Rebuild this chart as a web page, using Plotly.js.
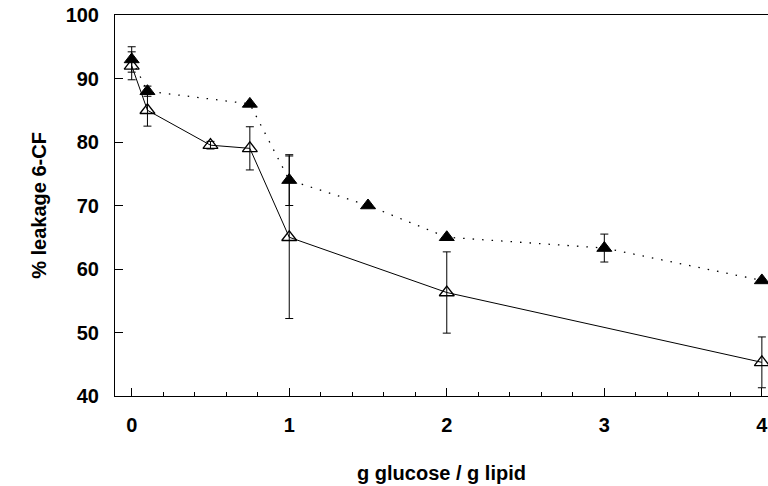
<!DOCTYPE html>
<html>
<head>
<meta charset="utf-8">
<script src="https://cdn.plot.ly/plotly-3.0.1.min.js"></script>
<style>html,body{margin:0;padding:0;background:#fff;}#chart{width:768px;height:486px;}</style>
</head>
<body>
<div id="chart"></div>
<script>
// Filled triangles (dotted line)
const filledX = [0, 0.1, 0.75, 1, 1.5, 2, 3, 4];
const filledY = [93, 88, 86, 74, 70, 65, 63.3, 58.2];
const filledErr = [2, 0.8, 0, 4, 0, 0, 2.2, 0];
// Open triangles (solid line)
const openX = [0, 0.1, 0.5, 0.75, 1, 2, 4];
const openY = [92, 85, 79.5, 79, 65, 56.3, 45.3];
const openErr = [2.2, 2.5, 0.6, 3.4, 12.8, 6.4, 4];

const yTicks = [40, 50, 60, 70, 80, 90, 100];
const xTicks = [0, 1, 2, 3, 4];

const traces = [
  {
    x: openX, y: openY, type: 'scatter', mode: 'lines+markers',
    line: {color: '#000', width: 1},
    marker: {symbol: 'triangle-up-open', size: 13, color: '#000', line: {width: 1.3, color: '#000'}},
    error_y: {type: 'data', array: openErr, visible: true, color: '#000', thickness: 1, width: 4},
    showlegend: false
  },
  {
    x: filledX, y: filledY, type: 'scatter', mode: 'lines+markers',
    line: {color: '#000', width: 1.3, dash: '1.5px,8px'},
    marker: {symbol: 'triangle-up', size: 13, color: '#000', line: {width: 1, color: '#000'}},
    error_y: {type: 'data', array: filledErr, visible: true, color: '#000', thickness: 1, width: 4},
    showlegend: false
  }
];

const font = {family: 'Liberation Sans, Arial, Helvetica, sans-serif', size: 20, color: '#000', weight: 'bold'};

const layout = {
  width: 768, height: 486,
  margin: {l: 115, r: 0, t: 15, b: 90},
  paper_bgcolor: '#fff', plot_bgcolor: '#fff',
  font: font,
  xaxis: {
    range: [-0.106, 4.039],
    tickvals: xTicks, ticktext: xTicks.map(String),
    ticks: 'inside', ticklen: 8, tickcolor: '#000', tickwidth: 1,
    minor: {dtick: 0.2, tick0: 0, ticks: 'inside', ticklen: 4, tickcolor: '#000'},
    showline: true, linecolor: '#000', linewidth: 1, mirror: true,
    showgrid: false, zeroline: false,
    tickfont: font,
    ticklabelstandoff: 11,
    ticklabeloverflow: 'allow',
    title: {text: 'g glucose / g lipid', font: font, standoff: 30}
  },
  yaxis: {
    range: [40, 100],
    tickvals: yTicks, ticktext: yTicks.map(String),
    ticks: 'inside', ticklen: 8, tickcolor: '#000', tickwidth: 1,
    showline: true, linecolor: '#000', linewidth: 1, mirror: true,
    showgrid: false, zeroline: false,
    tickfont: font,
    ticklabelstandoff: 11,
    ticklabeloverflow: 'allow',
    title: {text: '% leakage 6-CF', font: font, standoff: 13}
  }
};

Plotly.newPlot('chart', traces, layout, {displayModeBar: false, staticPlot: true});
</script>
</body>
</html>
